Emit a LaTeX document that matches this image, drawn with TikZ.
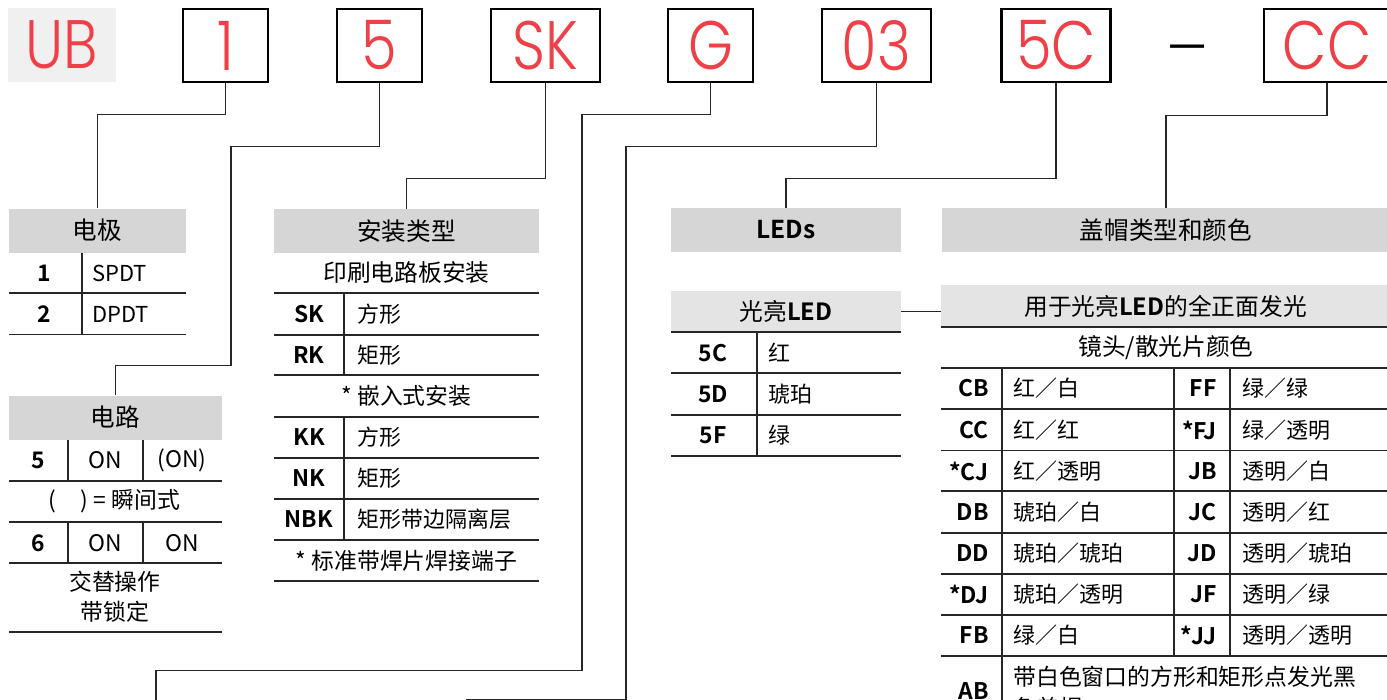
\documentclass[tikz,border=0pt]{standalone}
\usepackage{fontspec}
\setmainfont{Noto Sans CJK SC}[BoldFont={Noto Sans CJK SC Bold}]
\IfFontExistsTF{Poppins Light}{\newfontfamily\codefont{Poppins Light}[FakeStretch=0.84]}{\newfontfamily\codefont{Poppins}[FakeStretch=0.84]}
\newlength\pxu
\setlength\pxu{0.02cm}
\definecolor{codered}{RGB}{238,64,70}
\definecolor{hdgray}{RGB}{214,214,214}
\definecolor{subgray}{RGB}{228,228,228}
\definecolor{ubgray}{RGB}{240,240,240}
\tikzset{codebox/.style={draw,line width=1.5pt,minimum height=73\pxu,inner sep=0pt,
		text=codered,font=\codefont\fontsize{39}{39}\selectfont
	}
}

\begin{document}
\begin{tikzpicture}[x=0.02cm,y=-0.02cm]
				\tikzstyle{hdr} = [fill=hdgray, inner sep=0pt, minimum height=44\pxu, font=\fontsize{14}{14}\selectfont]
				\tikzstyle{subhdr} = [fill=subgray, inner sep=0pt, minimum height=42\pxu, font=\fontsize{13.5}{14}\selectfont]
				\tikzstyle{rule} = [line width=0.9pt, draw=black!85]
				\tikzstyle{thickrule} = [line width=1.3pt, draw=black!85]
				\tikzstyle{link} = [line width=0.75pt, draw=black!85]
				\tikzstyle{key} = [inner sep=0pt, font=\bfseries\fontsize{13}{13}\selectfont]
				\tikzstyle{val} = [inner sep=0pt, anchor=west, font=\fontsize{12.5}{13}\selectfont]
				\tikzstyle{mid} = [inner sep=0pt, font=\fontsize{13}{13}\selectfont]
				
				\useasboundingbox (0,0) rectangle (1387,700);
				
				\node [fill=ubgray, minimum width=108\pxu, minimum height=74\pxu, inner sep=0pt, text=codered, font=\codefont\fontsize{39}{39}\selectfont] (ub) at (62,45) {UB};
				\node [codebox, minimum width=85\pxu] (c1) at (225.5,45.5) {1};
				\node [codebox, minimum width=85\pxu] (c5) at (379.5,45.5) {5};
				\node [codebox, minimum width=109\pxu] (cSK) at (545.5,45.5) {SK};
				\node [codebox, minimum width=85\pxu] (cG) at (710.5,45.5) {G};
				\node [codebox, minimum width=109\pxu] (c03) at (876.5,45.5) {03};
				\node [codebox, minimum width=109\pxu] (c5C) at (1056,45.5) {5C};
				\node [inner sep=0pt, font=\codefont\fontsize{32}{32}\selectfont] (dash) at (1188,56) {—};
				\node [codebox, minimum width=126\pxu] (cCC) at (1327,45.5) {CC};
				
				\node [hdr, minimum width=177\pxu] (hdPole) at (97.5,230.5) {电极};
				\node [hdr, minimum width=213\pxu] (hdCirc) at (115.5,417.5) {电路};
				\node [hdr, minimum width=265\pxu] (hdMount) at (406.5,231) {安装类型};
				\node [hdr, minimum width=230\pxu, font=\bfseries\fontsize{14}{14}\selectfont] (hdLED) at (786,230) {LEDs};
				\node [subhdr, minimum width=230\pxu] (hdBright) at (786,311.5) {光亮\textbf{LED}};
				\node [hdr, minimum width=448\pxu] (hdCap) at (1166,230) {盖帽类型和颜色};
				\node [subhdr, minimum width=449\pxu] (hdFull) at (1165.5,306) {用于光亮\textbf{LED}的全正面发光};
				
				\coordinate (endG) at (156,705);
				\coordinate (end03) at (467,705);
				\draw [link] (c1.south) -- ++(0,31) -| (hdPole.north);
				\draw [link] (c5.south) -- ++(0,63) -| ++(-148.5,219) -| (hdCirc.north);
				\draw [link] (cSK.south) -- ++(0,95) -| (hdMount.north);
				\draw [link] (cG.south) -- ++(0,31) -| ++(-128.5,556) -| (endG);
				\draw [link] (c03.south) -- ++(0,63) -| ++(-250.5,553) -| (end03);
				\draw [link] (c5C.south) -- ++(0,95) -| (hdLED.north);
				\draw [link] (cCC.south) -- ++(0,32) -| (hdCap.north);
				\draw [link] (hdBright.east) -- (hdBright.east -| hdFull.west);
				
				\draw [rule] (9,293) -- (186,293) (9,334.5) -- (186,334.5) (82,252.5) -- (82,334.5);
				\node [key] (pk1) at (44,273) {1};
				\node [val] (pv1) at (92,273) {SPDT};
				\node [key] (pk2) at (44,314) {2};
				\node [val] (pv2) at (92,314) {DPDT};
				
				\draw [rule] (9,481) -- (222,481) (9,522) -- (222,522) (9,563) -- (222,563) (9,632) -- (222,632);
				\draw [rule] (68,439.5) -- (68,481) (143,439.5) -- (143,481) (68,522) -- (68,563) (143,522) -- (143,563);
				\node [key] (ck5) at (38,460) {5};
				\node [mid] (c5on) at (105.5,460) {ON};
				\node [mid] (c5mom) at (182,460) {(ON)};
				\node [mid] (cnote) at (114,501) {(\hspace{1.1em}) = 瞬间式};
				\node [key] (ck6) at (38,543) {6};
				\node [mid] (c6on) at (105.5,543) {ON};
				\node [mid] (c6on2) at (182,543) {ON};
				\node [mid, align=center, font=\fontsize{13}{17}\selectfont] (clatch) at (115,597) {交替操作\\带锁定};
				
				\draw [rule] (274,293) -- (539,293) (274,335) -- (539,335) (274,375) -- (539,375) (274,417) -- (539,417);
				\draw [rule] (274,458) -- (539,458) (274,499) -- (539,499) (274,540) -- (539,540) (274,581) -- (539,581);
				\draw [rule] (344,293) -- (344,375) (344,417) -- (344,540);
				\node [mid, font=\fontsize{13.5}{14}\selectfont] (mpcb) at (406.5,273) {印刷电路板安装};
				\node [key] (mSK) at (309,314) {SK};
				\node [val] (mSKv) at (357,314) {方形};
				\node [key] (mRK) at (309,355) {RK};
				\node [val] (mRKv) at (357,355) {矩形};
				\node [mid] (mflush) at (406.5,396) {* 嵌入式安装};
				\node [key] (mKK) at (309,437.5) {KK};
				\node [val] (mKKv) at (357,437.5) {方形};
				\node [key] (mNK) at (309,478.5) {NK};
				\node [val] (mNKv) at (357,478.5) {矩形};
				\node [key] (mNBK) at (309,519.5) {NBK};
				\node [val] (mNBKv) at (357,519.5) {矩形带边隔离层};
				\node [mid] (mstd) at (406.5,560.5) {* 标准带焊片焊接端子};
				
				\draw [thickrule] (671,332) -- (901,332);
				\draw [rule] (671,373) -- (901,373) (671,415) -- (901,415) (671,456) -- (901,456) (757,332) -- (757,456);
				\node [key] (l5C) at (713,353) {5C};
				\node [val] (l5Cv) at (768,353) {红};
				\node [key] (l5D) at (713,394) {5D};
				\node [val] (l5Dv) at (768,394) {琥珀};
				\node [key] (l5F) at (713,435.5) {5F};
				\node [val] (l5Fv) at (768,435.5) {绿};
				
				\draw [thickrule] (941,327) -- (1390,327);
				\draw [rule] (941,368) -- (1390,368) (941,409) -- (1390,409) (941,450.5) -- (1390,450.5) (941,491) -- (1390,491);
				\draw [rule] (941,533) -- (1390,533) (941,574) -- (1390,574) (941,615) -- (1390,615) (941,656) -- (1390,656);
				\draw [rule] (1002,368) -- (1002,705) (1174,368) -- (1174,656) (1230,368) -- (1230,656);
				\node [mid, font=\fontsize{13.5}{14}\selectfont] (lens) at (1166,347.5) {镜头/散光片颜色};
				\node [key, anchor=east] (kCB) at (989,388.5) {CB};
				\node [val] (vCB) at (1013,388.5) {红／白};
				\node [key, anchor=east] (kCC) at (989,430) {CC};
				\node [val] (vCC) at (1013,430) {红／红};
				\node [key, anchor=east] (kCJ) at (989,471) {*CJ};
				\node [val] (vCJ) at (1013,471) {红／透明};
				\node [key, anchor=east] (kDB) at (989,512) {DB};
				\node [val] (vDB) at (1013,512) {琥珀／白};
				\node [key, anchor=east] (kDD) at (989,553.5) {DD};
				\node [val] (vDD) at (1013,553.5) {琥珀／琥珀};
				\node [key, anchor=east] (kDJ) at (989,594.5) {*DJ};
				\node [val] (vDJ) at (1013,594.5) {琥珀／透明};
				\node [key, anchor=east] (kFB) at (989,635.5) {FB};
				\node [val] (vFB) at (1013,635.5) {绿／白};
				\node [key, anchor=east] (kFF) at (1217,388.5) {FF};
				\node [val] (vFF) at (1242,388.5) {绿／绿};
				\node [key, anchor=east] (kFJ) at (1217,430) {*FJ};
				\node [val] (vFJ) at (1242,430) {绿／透明};
				\node [key, anchor=east] (kJB) at (1217,471) {JB};
				\node [val] (vJB) at (1242,471) {透明／白};
				\node [key, anchor=east] (kJC) at (1217,512) {JC};
				\node [val] (vJC) at (1242,512) {透明／红};
				\node [key, anchor=east] (kJD) at (1217,553.5) {JD};
				\node [val] (vJD) at (1242,553.5) {透明／琥珀};
				\node [key, anchor=east] (kJF) at (1217,594.5) {JF};
				\node [val] (vJF) at (1242,594.5) {透明／绿};
				\node [key, anchor=east] (kJJ) at (1217,635.5) {*JJ};
				\node [val] (vJJ) at (1242,635.5) {透明／透明};
				\node [key, anchor=east] (kAB) at (989,691) {AB};
				\node [val, anchor=north west, align=left, font=\fontsize{13}{17.5}\selectfont] (vAB) at (1013,666) {带白色窗口的方形和矩形点发光黑\\色盖帽};
				
			\end{tikzpicture}
\end{document}
